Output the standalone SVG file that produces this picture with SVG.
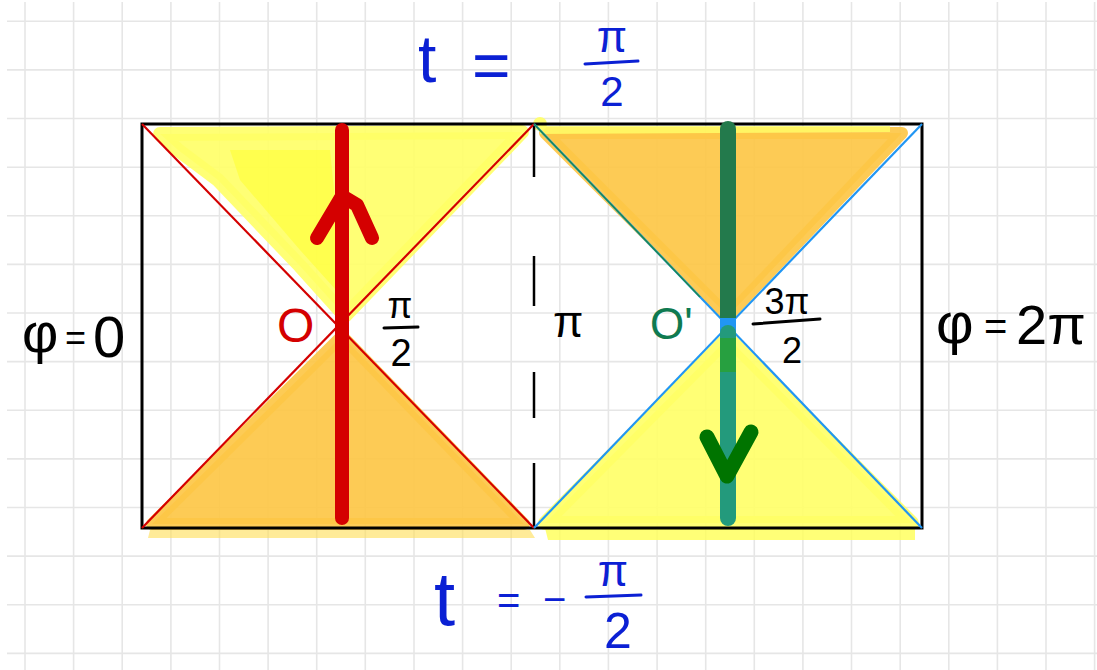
<svg xmlns="http://www.w3.org/2000/svg" width="1097" height="670" viewBox="0 0 1097 670">
<defs>
<style>
.grid line{stroke:#e6e6e6;stroke-width:1.6}
.hand{font-family:"Liberation Sans","DejaVu Sans",sans-serif}
.blue{fill:#0b20d4}
.blk{fill:#000}
.bar{stroke-width:3;stroke-linecap:round}
.yel{fill:#ffff66;stroke:#ffff66;stroke-linejoin:round;fill-opacity:0.9;stroke-opacity:0.9}
.org{fill:#fdc746;stroke:#fdc746;stroke-linejoin:round;fill-opacity:0.92;stroke-opacity:0.92}
</style>
</defs>
<rect width="1097" height="670" fill="#fff"/>
<g class="grid" id="grid">
<line x1="25" y1="2" x2="25" y2="670"/><line x1="73.6" y1="2" x2="73.6" y2="670"/><line x1="122.2" y1="2" x2="122.2" y2="670"/><line x1="170.9" y1="2" x2="170.9" y2="670"/><line x1="219.5" y1="2" x2="219.5" y2="670"/><line x1="268.1" y1="2" x2="268.1" y2="670"/><line x1="316.7" y1="2" x2="316.7" y2="670"/><line x1="365.3" y1="2" x2="365.3" y2="670"/><line x1="414" y1="2" x2="414" y2="670"/><line x1="462.6" y1="2" x2="462.6" y2="670"/><line x1="511.2" y1="2" x2="511.2" y2="670"/><line x1="559.8" y1="2" x2="559.8" y2="670"/><line x1="608.4" y1="2" x2="608.4" y2="670"/><line x1="657.1" y1="2" x2="657.1" y2="670"/><line x1="705.7" y1="2" x2="705.7" y2="670"/><line x1="754.3" y1="2" x2="754.3" y2="670"/><line x1="802.9" y1="2" x2="802.9" y2="670"/><line x1="851.5" y1="2" x2="851.5" y2="670"/><line x1="900.2" y1="2" x2="900.2" y2="670"/><line x1="948.8" y1="2" x2="948.8" y2="670"/><line x1="997.4" y1="2" x2="997.4" y2="670"/><line x1="1046" y1="2" x2="1046" y2="670"/><line x1="1094.6" y1="2" x2="1094.6" y2="670"/>
<line x1="7" y1="21.3" x2="1097" y2="21.3"/><line x1="7" y1="69.9" x2="1097" y2="69.9"/><line x1="7" y1="118.5" x2="1097" y2="118.5"/><line x1="7" y1="167.2" x2="1097" y2="167.2"/><line x1="7" y1="215.8" x2="1097" y2="215.8"/><line x1="7" y1="264.4" x2="1097" y2="264.4"/><line x1="7" y1="313" x2="1097" y2="313"/><line x1="7" y1="361.6" x2="1097" y2="361.6"/><line x1="7" y1="410.3" x2="1097" y2="410.3"/><line x1="7" y1="458.9" x2="1097" y2="458.9"/><line x1="7" y1="507.5" x2="1097" y2="507.5"/><line x1="7" y1="556.1" x2="1097" y2="556.1"/><line x1="7" y1="604.7" x2="1097" y2="604.7"/><line x1="7" y1="653.4" x2="1097" y2="653.4"/>
</g>
<g id="highlights">
<polygon class="yel" stroke-width="14" points="160,134 522,132 345,316 300,266 218,180 178,150"/>
<polygon fill="#ffff33" fill-opacity="0.6" points="230,150 330,150 345,300 300,250 240,180"/>
<polygon class="org" stroke-width="12" points="152,524 524,524 342,336"/>
<polygon fill="#ffdd55" fill-opacity="0.6" points="150,530 530,530 535,538 148,538"/>
<polygon class="org" stroke-width="12" points="545,133 902,133 728,316"/>
<polygon fill="#ffff66" fill-opacity="0.8" points="540,126 890,126 890,132 540,134"/>
<polygon class="yel" stroke-width="14" points="545,523 912,523 728,338"/>
<polygon fill="#ffff55" fill-opacity="0.8" points="545,528 915,528 915,540 548,540"/>
<circle cx="540" cy="124" r="7" fill="#ffff66" fill-opacity="0.9"/>
</g>
<g id="frame">
<rect x="142" y="124" width="780" height="404" fill="none" stroke="#000" stroke-width="3"/>
<line x1="534" y1="126" x2="534" y2="177" stroke="#000" stroke-width="2.5"/>
<line x1="534" y1="256" x2="534" y2="306" stroke="#000" stroke-width="2.5"/>
<line x1="534" y1="372" x2="534" y2="418" stroke="#000" stroke-width="2.5"/>
<line x1="534" y1="463" x2="534" y2="528" stroke="#000" stroke-width="2.5"/>
</g>
<g id="connectors">
<line x1="142" y1="124" x2="534" y2="528" stroke="#d40000" stroke-width="2.2"/>
<line x1="534" y1="124" x2="142" y2="528" stroke="#d40000" stroke-width="2.2"/>
<line x1="534" y1="124" x2="922" y2="528" stroke="#2196f3" stroke-width="2.2"/>
<line x1="922" y1="124" x2="534" y2="528" stroke="#2196f3" stroke-width="2.2"/>
<line x1="534" y1="124" x2="700" y2="297" stroke="#1d8a4c" stroke-width="1.5"/>
<line x1="342" y1="130" x2="342" y2="518" stroke="#d40000" stroke-width="14" stroke-linecap="round"/>
<polyline points="317,238 342,196 357,205 372,238" fill="none" stroke="#d40000" stroke-width="14" stroke-linecap="round" stroke-linejoin="round"/>
<line x1="728" y1="129" x2="728" y2="318" stroke="#237a4c" stroke-width="16" stroke-linecap="round"/>
<line x1="728" y1="318" x2="728" y2="333" stroke="#2196f3" stroke-width="16"/>
<line x1="728" y1="333" x2="728" y2="518" stroke="#239a7c" stroke-width="16" stroke-linecap="round"/>
<line x1="728" y1="338" x2="728" y2="372" stroke="#27a040" stroke-width="16"/>
<polyline points="707,437 727,476 751,432" fill="none" stroke="#007400" stroke-width="15" stroke-linecap="round" stroke-linejoin="round"/>
</g>
<g id="label-top" class="hand blue">
<text x="418" y="82" font-size="66">t</text>
<text x="472" y="88" font-size="66">=</text>
<text x="612" y="52" font-size="44" text-anchor="middle">π</text>
<line x1="585" y1="64" x2="638" y2="61" stroke="#0b20d4" class="bar"/>
<text x="612" y="106" font-size="42" text-anchor="middle">2</text>
</g>
<g id="label-bottom" class="hand blue">
<text x="434" y="625" font-size="76">t</text>
<text x="497" y="614" font-size="40">=</text>
<text x="543" y="613" font-size="40">−</text>
<text x="613" y="586" font-size="44" text-anchor="middle">π</text>
<line x1="586" y1="597" x2="641" y2="595" stroke="#0b20d4" class="bar"/>
<text x="618" y="648" font-size="50" text-anchor="middle">2</text>
</g>
<g id="label-phi0" class="hand blk">
<text x="22" y="352" font-size="56">φ</text>
<text x="65" y="350" font-size="36">=</text>
<text x="93" y="357" font-size="58">0</text>
</g>
<g id="label-phi2pi" class="hand blk">
<text x="936" y="343" font-size="58">φ</text>
<text x="984" y="340" font-size="40">=</text>
<text x="1016" y="344" font-size="56">2π</text>
</g>
<g id="label-O" class="hand">
<text x="277" y="342" font-size="48" fill="#d40000">O</text>
</g>
<g id="label-pi2" class="hand blk">
<text x="400" y="318" font-size="36" text-anchor="middle">π</text>
<line x1="384" y1="328" x2="418" y2="327" stroke="#000" class="bar"/>
<text x="401" y="366" font-size="38" text-anchor="middle">2</text>
</g>
<g id="label-pi" class="hand blk">
<text x="553" y="337" font-size="44">π</text>
</g>
<g id="label-Oprime" class="hand">
<text x="650" y="339" font-size="44" fill="#0f7a50">O'</text>
</g>
<g id="label-3pi2" class="hand blk">
<text x="787" y="314" font-size="36" text-anchor="middle">3π</text>
<line x1="753" y1="324" x2="820" y2="319" stroke="#000" class="bar"/>
<text x="792" y="363" font-size="36" text-anchor="middle">2</text>
</g>
</svg>
